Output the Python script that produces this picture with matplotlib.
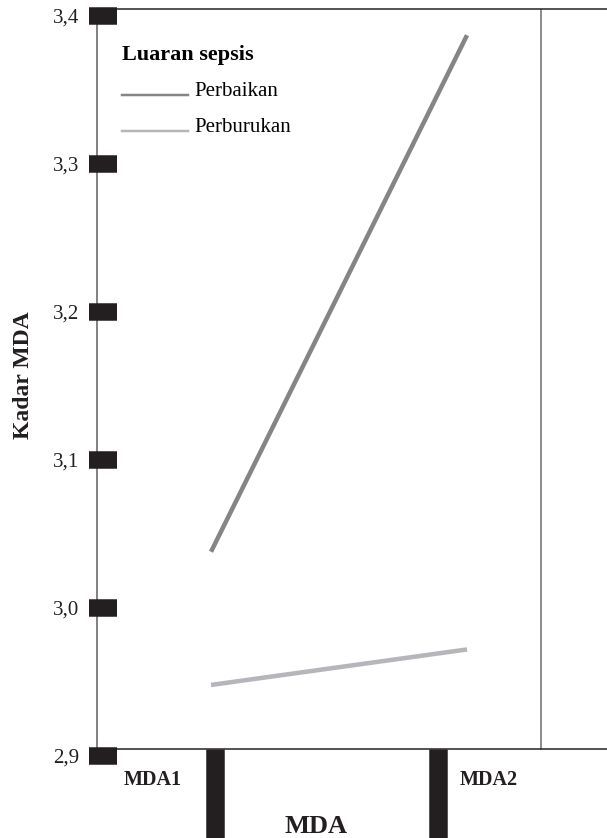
import matplotlib.pyplot as plt
import numpy as np
from matplotlib.legend_handler import HandlerLine2D
from matplotlib.lines import Line2D
import matplotlib.transforms as mtransforms

plt.rcParams['font.family'] = ['Liberation Serif', 'DejaVu Serif']

# data
time_points = [1, 2]
time_labels = ['MDA1', 'MDA2']
perbaikan = [3.038, 3.387]
perburukan = [2.948, 2.972]
series_names = ['Perbaikan', 'Perburukan']
series_colors = ['#858587', '#b6b6ba']
y_ticks = [2.9, 3.0, 3.1, 3.2, 3.3, 3.4]

PX = 72 / 100  # points per pixel at dpi 100
DARK = '#231f20'

# tick bars and labels sit a bit off the data points in the original
tick_pos = [1.016, 1.887]
label_pos = [0.772, 2.086]


# puts the legend sample on the text baseline instead of mid-height
class BaselineLine(HandlerLine2D):
    def create_artists(self, legend, orig_handle, xdescent, ydescent,
                       width, height, fontsize, trans):
        artists = super().create_artists(legend, orig_handle, xdescent, ydescent,
                                         width, height, fontsize, trans)
        for a in artists:
            a.set_ydata(np.full_like(a.get_ydata(), 0.05 * fontsize))
        return artists


fig = plt.figure(figsize=(6.07, 8.38), dpi=100)
ax = fig.add_axes([97 / 607, 82 / 838, 523 / 607, (756 - 9.5) / 838])

ax.plot(time_points, perbaikan, color=series_colors[0], lw=4.5 * PX, solid_capstyle='butt')
ax.plot(time_points, perburukan, color=series_colors[1], lw=4.5 * PX, solid_capstyle='butt')

y_bottom = 2.9 + 7 / 1480
ax.set_ylim(2.9, 3.4 + 6.5 / 1480)
ax.set_xlim(1 - 114 / 256, 2 + 153 / 256)

# spines
ax.spines['right'].set_visible(False)
ax.spines['bottom'].set_position(('data', y_bottom))
ax.spines['bottom'].set_color(DARK)
ax.spines['bottom'].set_linewidth(1.5 * PX)
ax.spines['top'].set_color(DARK)
ax.spines['top'].set_linewidth(1.5 * PX)
ax.spines['left'].set_color('#5a5a5a')
ax.spines['left'].set_linewidth(1.5 * PX)
ax.spines['left'].set_bounds(y_bottom, 3.4 + 6.5 / 1480)

ax.axvline(2 + 74 / 256, ymin=7 / 746.5, color='#6b6b6b', lw=1.5 * PX)

# y ticks: black blocks straddling the spine
ax.set_yticks(y_ticks)
ax.set_yticklabels([f'{v:.1f}'.replace('.', ',') for v in y_ticks])
ax.set_yticks(y_ticks, minor=True)
ax.yaxis.remove_overlapping_locs = False
ax.tick_params(axis='y', which='major', direction='in', length=20 * PX,
               width=17.5 * PX, color=DARK, pad=18 * PX, labelsize=15, labelcolor=DARK)
ax.tick_params(axis='y', which='minor', direction='out', length=8.5 * PX,
               width=17.5 * PX, color=DARK)
ax.yaxis.set_zorder(3)  # blocks drawn over the spine

# x ticks: tall bars hanging below the axis
ax.set_xticks(tick_pos)
ax.set_xticklabels(['', ''])
ax.tick_params(axis='x', direction='out', length=100 * PX, width=18.5 * PX,
               color=DARK, labelbottom=False)

trans = mtransforms.blended_transform_factory(ax.transData, fig.transFigure)
for x, lab in zip(label_pos, time_labels):
    ax.text(x, 1 - 780 / 838, lab, transform=trans, ha='center', va='center',
            fontsize=14.5, fontweight='bold', color=DARK, clip_on=False)

fig.text(24 / 607, 1 - 375 / 838, 'Kadar MDA', rotation=90, ha='center', va='center',
         fontsize=17, fontweight='bold', color=DARK)
fig.text(316 / 607, 1 - 833 / 838, 'MDA', ha='center', va='baseline',
         fontsize=19, fontweight='bold', color=DARK)

handles = [Line2D([], [], color=c, lw=2.5 * PX) for c in series_colors]
ax.legend(handles, series_names, title='Luaran sepsis',
          title_fontproperties={'weight': 'bold', 'size': 16}, alignment='left',
          loc='upper left', bbox_to_anchor=((122 - 97) / 523, 1 - (45 - 9.5) / 746.5),
          frameon=False, borderpad=0, borderaxespad=0, fontsize=15,
          handlelength=66 / 20.83, handletextpad=6 / 20.83, labelspacing=0.79,
          handler_map={Line2D: BaselineLine()})

fig.savefig('out.png', dpi=100)
